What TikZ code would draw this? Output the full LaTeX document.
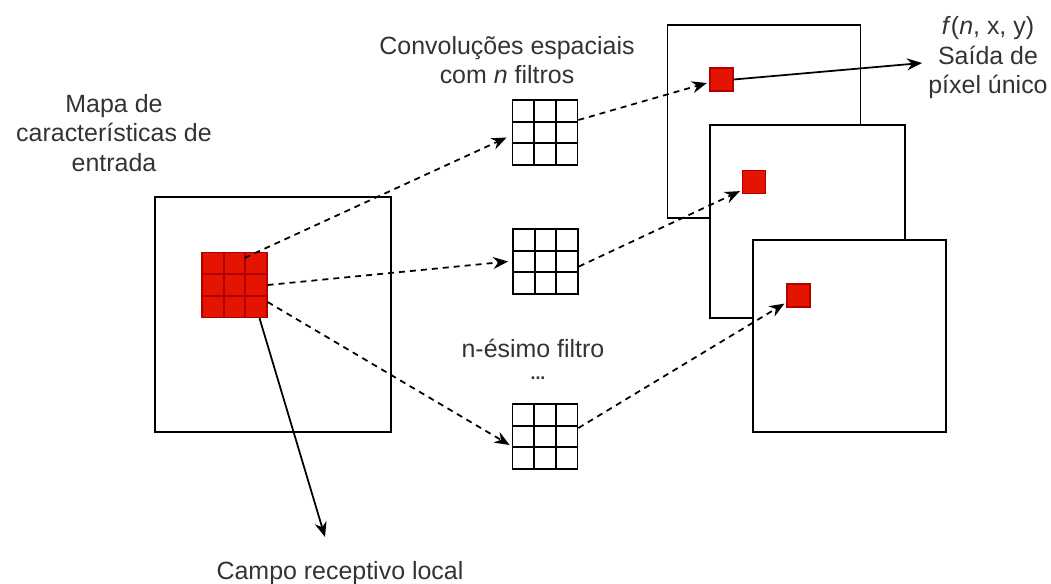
\documentclass[tikz,border=0pt]{standalone}
\usepackage{fontspec}
\setmainfont{Liberation Sans}
\usetikzlibrary{calc}
\usetikzlibrary{arrows.meta}
\usetikzlibrary{positioning}
\definecolor{pixred}{HTML}{E51400}
\definecolor{pixedge}{HTML}{B20000}
\definecolor{txtgray}{HTML}{333333}

\tikzset{
  fmap/.style={draw, line width=1pt, fill=white, inner sep=0pt},
  cells/.style={path picture={
    \foreach \k in {1,2}{
      \draw[line width=1pt, #1]
        ($(path picture bounding box.north west)!\k/3!(path picture bounding box.north east)$) --
        ($(path picture bounding box.south west)!\k/3!(path picture bounding box.south east)$);
      \draw[line width=1pt, #1]
        ($(path picture bounding box.north west)!\k/3!(path picture bounding box.south west)$) --
        ($(path picture bounding box.north east)!\k/3!(path picture bounding box.south east)$);
    }}},
  kernel/.style={draw, line width=1pt, fill=white, minimum size=1.3cm, inner sep=0pt, cells=black},
  field/.style={draw=pixedge, line width=0.7pt, fill=pixred, minimum size=1.3cm, inner sep=0pt, cells=pixedge},
  pix/.style={draw=pixedge, line width=0.7pt, fill=pixred, minimum size=0.46cm, inner sep=0pt},
  lbl/.style={align=center, text=txtgray, font=\fontsize{14.2}{16.8}\selectfont, inner sep=0pt},
  flow/.style={line width=1pt, dash pattern=on 0.12cm off 0.1cm, -{Stealth[length=0.3cm,width=0.24cm]}},
  link/.style={line width=1pt, -{Stealth[length=0.3cm,width=0.24cm]}}
}

\begin{document}
\begin{tikzpicture}[x=0.02cm, y=-0.02cm]
\useasboundingbox (0,0) rectangle (1051,583);

\node[fmap, minimum width=4.72cm, minimum height=4.7cm] (inmap) at (273,314.5) {};
\node[field] (patch) at (234.5,285) {};

\node[kernel] (filt1) at (545,132.5) {};
\node[kernel] (filt2) at (545.5,261.5) {};
\node[kernel] (filt3) at (545,436.5) {};

\node[fmap, minimum width=3.86cm, minimum height=3.86cm] (out1) at (764,121.5) {};
\node[fmap, minimum width=3.9cm, minimum height=3.86cm] (out2) at (807.5,221.5) {};
\node[fmap, minimum width=3.86cm, minimum height=3.84cm] (out3) at (849.5,336) {};
\node[pix] (px1) at (721.5,79.5) {};
\node[pix] (px2) at (754,182) {};
\node[pix] (px3) at (798.5,295.5) {};

\node[lbl] (inlbl) at (114,133) {Mapa de\\características de\\entrada};
\node[lbl] (convlbl) at (507,60) {Convoluções espaciais\\com \textit{n} filtros};
\node[lbl] (outlbl) at (988,58) {\textit{f}(\textit{n}, x, y)\\Saída de\\píxel único};
\node[lbl] (nthlbl) at (533,348) {n-ésimo filtro};
\node[lbl, font=\bfseries] (dotslbl) at (538,378) {...};
\node[lbl] (camplbl) at (340,573) {Campo receptivo local};

\coordinate (pixend) at (922,63);
\coordinate (campend) at (325,537);

\draw[flow] ([xshift=0.2cm,yshift=-0.12cm]patch.north) -- ([xshift=-0.1cm,yshift=-0.1cm]filt1.west);
\draw[flow] (patch.east) -- ([xshift=-0.08cm]filt2.west);
\draw[flow] ([yshift=-0.34cm]patch.east) -- ([xshift=-0.04cm,yshift=-0.17cm]filt3.west);
\draw[flow] ([yshift=0.25cm]filt1.east) -- ([xshift=-0.05cm,yshift=-0.07cm]px1.west);
\draw[flow] ([yshift=-0.1cm]filt2.east) -- ([xshift=-0.04cm,yshift=0.06cm]px2.south west);
\draw[flow] ([yshift=0.17cm]filt3.east) -- ([xshift=-0.04cm,yshift=0.08cm]px3.south west);
\draw[link] (px1.east) -- (pixend);
\draw[link] ([xshift=0.5cm]patch.south) -- (campend);
\end{tikzpicture}
\end{document}
